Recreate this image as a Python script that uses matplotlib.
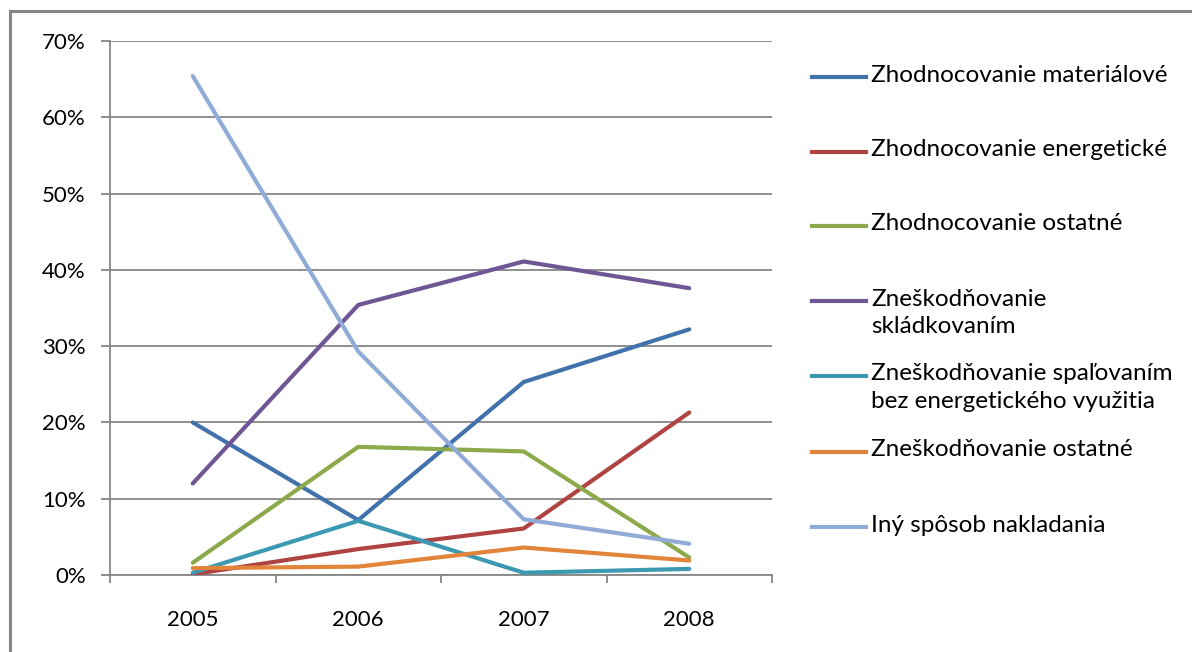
import matplotlib
matplotlib.use("Agg")
import matplotlib.pyplot as plt
from matplotlib.lines import Line2D
from matplotlib.ticker import PercentFormatter
from matplotlib.transforms import ScaledTranslation

plt.rcParams['font.family'] = ['Lato', 'DejaVu Sans']

years = ['2005', '2006', '2007', '2008']

labels = [
    'Zhodnocovanie materiálové',
    'Zhodnocovanie energetické',
    'Zhodnocovanie ostatné',
    'Zneškodňovanie\nskládkovaním',
    'Zneškodňovanie spaľovaním\nbez energetického využitia',
    'Zneškodňovanie ostatné',
    'Iný spôsob nakladania',
]

materialove = [20.0, 7.2, 25.3, 32.2]
energeticke = [0.1, 3.4, 6.1, 21.3]
ostatne_zh = [1.6, 16.8, 16.2, 2.3]
skladkovanim = [12.0, 35.4, 41.1, 37.6]
spalovanim = [0.3, 7.1, 0.3, 0.8]
ostatne_zn = [0.9, 1.1, 3.6, 1.9]
iny = [65.4, 29.3, 7.3, 4.1]

series = [materialove, energeticke, ostatne_zh, skladkovanim,
          spalovanim, ostatne_zn, iny]
colors = ['#4272AB', '#AE4341', '#8CAA4B', '#6F5694',
          '#3D99B2', '#E2843A', '#8FABD6']

W, H = 1192, 652
fig = plt.figure(figsize=(W / 100, H / 100), dpi=100)
ax = fig.add_axes([110 / W, 1 - 575 / H, (772 - 110) / W, (575 - 41) / H])

x = range(len(years))
for vals, c in zip(series, colors):
    ax.plot(x, vals, color=c, lw=3, solid_capstyle='round', zorder=3)

grey = '#868686'
ax.set_ylim(0, 70)
ax.set_xlim(-0.5, 3.5)
ax.set_yticks(range(0, 71, 10))
ax.yaxis.set_major_formatter(PercentFormatter(decimals=0))
ax.set_xticks(list(x))
ax.set_xticklabels(years)
ax.set_xticks([-0.5, 0.5, 1.5, 2.5, 3.5], minor=True)
ax.grid(axis='y', color=grey, lw=1.3)
ax.set_axisbelow(True)
ax.tick_params(axis='y', length=6.5, width=1.3, color=grey, pad=11,
               labelsize=16)
ax.tick_params(axis='x', which='major', length=0, pad=25, labelsize=16)
ax.tick_params(axis='x', which='minor', length=5.5, width=1.3, color=grey)
for s in ['top', 'right']:
    ax.spines[s].set_visible(False)
for s in ['left', 'bottom']:
    ax.spines[s].set_color(grey)
    ax.spines[s].set_linewidth(1.3)

# legend drawn by hand so the swatch sits on the first text line
entry_y = [77, 152, 226, 301, 376, 452, 527]
shift = ScaledTranslation(0, 12.5 / 100, fig.dpi_scale_trans)
for lab, c, yy in zip(labels, colors, entry_y):
    fy = 1 - yy / H
    fig.add_artist(Line2D([812 / W, 866 / W], [fy, fy], color=c, lw=3,
                          transform=fig.transFigure))
    fig.text(871 / W, fy, lab, fontsize=17.5, va='top', ha='left',
             linespacing=1.4, transform=fig.transFigure + shift)

# chart frame (only left and top edges show in the crop)
fig.add_artist(Line2D([10 / W, 10 / W], [0, 1 - 11 / H], color=grey, lw=2.2,
                      transform=fig.transFigure))
fig.add_artist(Line2D([10 / W, 1], [1 - 11 / H, 1 - 11 / H], color=grey, lw=2.2,
                      transform=fig.transFigure))

fig.savefig('out.png', dpi=100)
